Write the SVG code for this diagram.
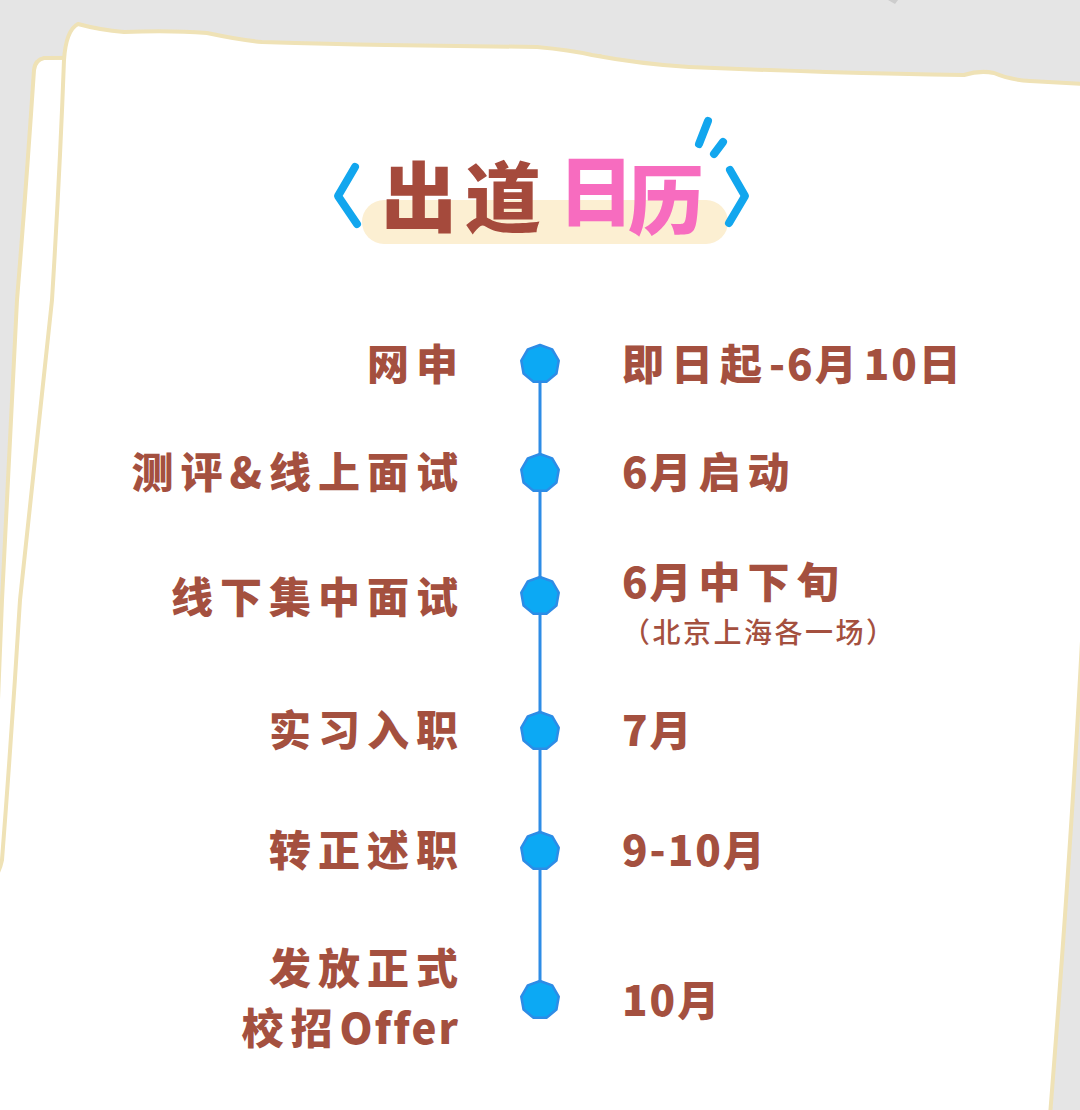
<svg xmlns="http://www.w3.org/2000/svg" width="1080" height="1110" viewBox="0 0 1080 1110">
  <style>
    .lbl { font-family: "Noto Sans CJK SC", "Noto Sans", sans-serif; font-weight: 900; font-size: 42px; fill: #a4503f; letter-spacing: 7px; }
    .lat { letter-spacing: 2px; }
    .left { text-anchor: end; }
    .sub { font-family: "Noto Sans CJK SC", "Noto Sans", sans-serif; font-weight: 500; font-size: 28px; fill: #a4503f; letter-spacing: 2.5px; }
    .title { font-family: "Noto Sans CJK SC", sans-serif; font-weight: 900; font-size: 76px; text-anchor: middle; }
    .paper { fill: #ffffff; stroke: #efe2b6; stroke-width: 4; stroke-linejoin: round; }
    .blue { fill: none; stroke: #12a6ee; stroke-width: 8; stroke-linecap: round; stroke-linejoin: round; }
    .node { fill: #0ca9f4; stroke: #2d8ce6; stroke-width: 2.5; stroke-linejoin: round; }
  </style>
  <defs>
    <polygon id="oct" points="0,-19 12.21,-14.55 18.71,-3.3 16.45,9.5 6.5,17.85 -6.5,17.85 -16.45,9.5 -18.71,-3.3 -12.21,-14.55"/>
  </defs>

  <!-- background -->
  <rect x="0" y="0" width="1080" height="1110" fill="#e5e5e5"/>
  <polygon points="888,0 898,0 895,4" fill="#cdcdcd"/>

  <!-- back paper -->
  <path class="paper" d="M 44 58 Q 35 60 34 70 Q 26 190 17 300 Q 9 450 2 600 Q -2 700 -6 800 L -6 1116 L 600 1116 L 600 56 Z"/>

  <!-- front paper -->
  <path class="paper" d="M 78 24 Q 100 30 124 32 Q 170 30 207 33 Q 240 40 262 42 Q 330 44 386 45 Q 470 46 537 47 Q 570 50 592 55 Q 640 64 689 67 Q 760 70 826 72 Q 900 74 964 75 Q 980 70 994 73 Q 1010 80 1030 81 L 1086 84 L 1086 560 Q 1075 800 1050 1116 L -6 1116 L -6 880 Q 0 870 2 860 Q 12 730 20 600 Q 36 450 52 300 Q 60 170 64 60 Q 66 30 78 24 Z"/>

  <!-- title -->
  <g id="title">
    <rect x="362" y="200" width="366" height="44" rx="22" fill="#fcefd2"/>
    <text class="title" x="419" y="226" fill="#a54a3c">出</text>
    <text class="title" x="503" y="226" fill="#a54a3c">道</text>
    <text class="title" x="596" y="220" fill="#f76cbf">日</text>
    <text class="title" x="666" y="229" fill="#f76cbf">历</text>
    <polyline class="blue" points="355,167 338,196 357,224"/>
    <polyline class="blue" points="730,170 745,196 729,223"/>
    <line class="blue" x1="708" y1="121" x2="699" y2="144" stroke-width="6"/>
    <line class="blue" x1="723" y1="142" x2="714" y2="154" stroke-width="6"/>
  </g>

  <!-- connectors -->
  <g id="connectors">
    <line x1="540" y1="365" x2="540" y2="1000" stroke="#2d8ce6" stroke-width="3"/>
  </g>

  <!-- nodes -->
  <g id="node-1">
    <use href="#oct" x="540" y="364" class="node"/>
    <text class="lbl left" x="465" y="380">网申</text>
    <text class="lbl" x="622" y="380">即日起<tspan class="lat">-6</tspan>月<tspan class="lat">10</tspan>日</text>
  </g>
  <g id="node-2">
    <use href="#oct" x="540" y="473" class="node"/>
    <text class="lbl left" x="465" y="488">测评&amp;线上面试</text>
    <text class="lbl" x="622" y="488"><tspan class="lat">6</tspan>月启动</text>
  </g>
  <g id="node-3">
    <use href="#oct" x="540" y="596" class="node"/>
    <text class="lbl left" x="465" y="613">线下集中面试</text>
    <text class="lbl" x="622" y="598"><tspan class="lat">6</tspan>月中下旬</text>
    <text class="sub" x="622" y="643">（北京上海各一场）</text>
  </g>
  <g id="node-4">
    <use href="#oct" x="540" y="731" class="node"/>
    <text class="lbl left" x="465" y="746">实习入职</text>
    <text class="lbl" x="622" y="746"><tspan class="lat">7</tspan>月</text>
  </g>
  <g id="node-5">
    <use href="#oct" x="540" y="851" class="node"/>
    <text class="lbl left" x="465" y="866">转正述职</text>
    <text class="lbl" x="622" y="866"><tspan class="lat">9-10</tspan>月</text>
  </g>
  <g id="node-6">
    <use href="#oct" x="540" y="1000" class="node"/>
    <text class="lbl left" x="465" y="984">发放正式</text>
    <text class="lbl left" x="460" y="1044">校招<tspan class="lat">Offer</tspan></text>
    <text class="lbl" x="622" y="1016"><tspan class="lat">10</tspan>月</text>
  </g>
</svg>
